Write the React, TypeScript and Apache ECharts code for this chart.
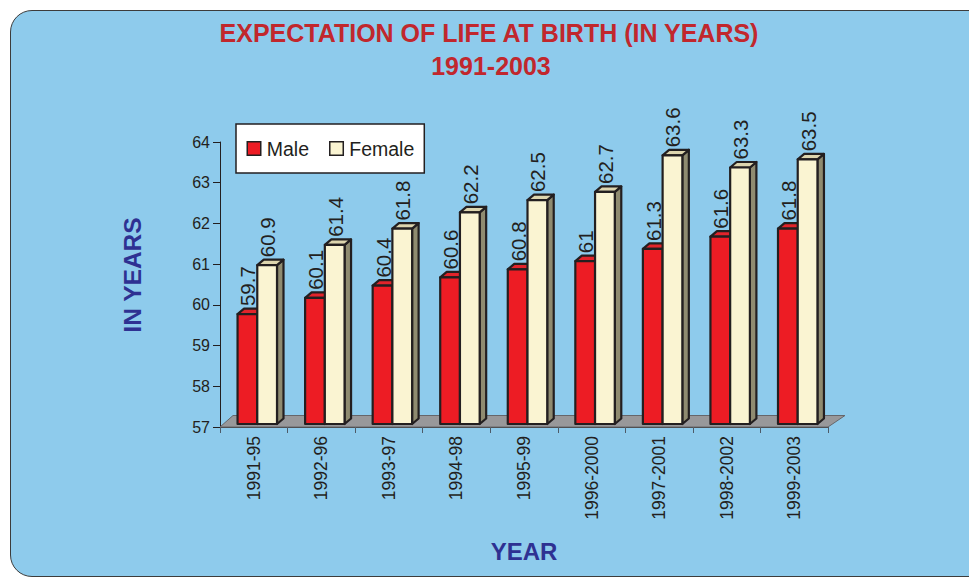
import React, { useEffect, useRef } from 'react';
import * as echarts from 'echarts';

const categories = ['1991-95', '1992-96', '1993-97', '1994-98', '1995-99', '1996-2000', '1997-2001', '1998-2002', '1999-2003'];
const maleValues = [59.7, 60.1, 60.4, 60.6, 60.8, 61, 61.3, 61.6, 61.8];
const femaleValues = [60.9, 61.4, 61.8, 62.2, 62.5, 62.7, 63.6, 63.3, 63.5];
const AXIS_MIN = 57;
const AXIS_MAX = 64;
const AXIS_STEP = 1;

const FONT = '"Liberation Sans", Arial, Helvetica, sans-serif';
const INK = '#231f20';

function makeBarRender(pos: number, front: string, top: string, side: string) {
  return (params: any, api: any) => {
    const idx = api.value(0);
    const v = api.value(1);
    const band = api.size([1, 0])[0];
    const barW = band * 0.292;
    const c = api.coord([idx, v]);
    const b = api.coord([idx, AXIS_MIN]);
    const shiftX = 3.5;
    const shiftY = -3;
    const ddx = 6.5;
    const ddy = -5.5;
    const x0 = c[0] - barW + pos * barW + shiftX;
    const x1 = x0 + barW;
    const yT = c[1] + shiftY;
    const yB = b[1] + shiftY;
    const stroke = { stroke: INK, lineWidth: 2.2, lineJoin: 'round' };
    return {
      type: 'group',
      children: [
        {
          type: 'polygon',
          z2: 0,
          shape: { points: [[x1, yT], [x1 + ddx, yT + ddy], [x1 + ddx, yB + ddy], [x1, yB]] },
          style: { fill: side, ...stroke },
        },
        {
          type: 'polygon',
          z2: 0,
          shape: { points: [[x0, yT], [x1, yT], [x1 + ddx, yT + ddy], [x0 + ddx, yT + ddy]] },
          style: { fill: top, ...stroke },
        },
        {
          type: 'rect',
          z2: 0,
          shape: { x: x0, y: yT, width: barW, height: yB - yT },
          style: { fill: front, ...stroke },
        },
        {
          type: 'text',
          z2: 10,
          x: (x0 + x1) / 2 + 0.5,
          y: yT - 8,
          rotation: Math.PI / 2,
          style: {
            text: String(v),
            x: 0,
            y: 0,
            fill: INK,
            fontSize: 20.5,
            fontFamily: FONT,
            align: 'left',
            verticalAlign: 'middle',
          },
        },
      ],
    };
  };
}

function floorRender(params: any, api: any) {
  const band = api.size([1, 0])[0];
  const l = api.coord([0, AXIS_MIN]);
  const r = api.coord([categories.length - 1, AXIS_MIN]);
  const L = l[0] - band / 2;
  const R = r[0] + band / 2;
  const y = l[1];
  return {
    type: 'polygon',
    shape: { points: [[L, y], [R, y], [R + 17, y - 11.5], [L + 13, y - 11.5]] },
    style: { fill: '#98989a', stroke: '#66666a', lineWidth: 1 },
  };
}

export default function App() {
  const ref = useRef<HTMLDivElement>(null);
  useEffect(() => {
    if (!ref.current) return;
    const chart = echarts.init(ref.current, undefined, { renderer: 'svg' });
    chart.setOption({
      animation: false,
      backgroundColor: 'transparent',
      grid: { left: 220, right: 141, top: 142, bottom: 152, containLabel: false },
      graphic: [
        {
          type: 'text',
          x: 489,
          y: 33,
          style: {
            text: 'EXPECTATION OF LIFE AT BIRTH (IN YEARS)',
            fill: '#c1272d',
            fontSize: 25,
            fontWeight: 'bold',
            fontFamily: FONT,
            align: 'center',
            verticalAlign: 'middle',
          },
        },
        {
          type: 'text',
          x: 491,
          y: 65.5,
          style: {
            text: '1991-2003',
            fill: '#c1272d',
            fontSize: 25,
            fontWeight: 'bold',
            fontFamily: FONT,
            align: 'center',
            verticalAlign: 'middle',
          },
        },
        {
          type: 'text',
          x: 132,
          y: 275,
          rotation: Math.PI / 2,
          style: {
            text: 'IN YEARS',
            fill: '#2e3192',
            fontSize: 24.5,
            fontWeight: 'bold',
            fontFamily: FONT,
            align: 'center',
            verticalAlign: 'middle',
          },
        },
        {
          type: 'text',
          x: 524,
          y: 551.5,
          style: {
            text: 'YEAR',
            fill: '#2e3192',
            fontSize: 24,
            fontWeight: 'bold',
            fontFamily: FONT,
            align: 'center',
            verticalAlign: 'middle',
          },
        },
      ],
      legend: {
        left: 236,
        top: 124,
        orient: 'horizontal',
        backgroundColor: '#ffffff',
        borderColor: INK,
        borderWidth: 1.5,
        borderRadius: 0,
        padding: [14.5, 10, 14.5, 10.5],
        itemWidth: 13.5,
        itemHeight: 13.5,
        itemGap: 20,
        selectedMode: false,
        textStyle: { fontSize: 19.5, color: INK, fontFamily: FONT, padding: [0, 0, 0, 1], lineHeight: 20 },
        data: [
          { name: 'Male', icon: 'rect', itemStyle: { color: '#ed1c24', borderColor: INK, borderWidth: 1.5 } },
          { name: 'Female', icon: 'rect', itemStyle: { color: '#faf4d2', borderColor: INK, borderWidth: 1.5 } },
        ],
      },
      xAxis: {
        type: 'category',
        data: categories,
        boundaryGap: true,
        axisLine: { show: true, lineStyle: { color: '#3a3a3a', width: 1 } },
        axisTick: { show: true, length: 6, lineStyle: { color: '#4d5b68', width: 1 } },
        axisLabel: { rotate: 90, fontSize: 17.5, color: INK, fontFamily: FONT, margin: 9 },
        splitLine: { show: false },
      },
      yAxis: {
        type: 'value',
        min: AXIS_MIN,
        max: AXIS_MAX,
        interval: AXIS_STEP,
        axisLine: { show: true, lineStyle: { color: INK, width: 1 } },
        axisTick: { show: true, length: 7, lineStyle: { color: INK, width: 1 } },
        axisLabel: { fontSize: 16, color: INK, fontFamily: FONT, margin: 10 },
        splitLine: { show: false },
      },
      series: [
        {
          name: 'floor',
          type: 'custom',
          z: 1,
          silent: true,
          renderItem: floorRender,
          data: [[0, AXIS_MIN]],
        },
        {
          name: 'Male',
          type: 'custom',
          z: 2,
          itemStyle: { color: '#ed1c24' },
          renderItem: makeBarRender(0, '#ed1c24', '#e2242b', '#9c1b1f'),
          data: maleValues.map((v, i) => [i, v]),
        },
        {
          name: 'Female',
          type: 'custom',
          z: 2,
          itemStyle: { color: '#faf4d2' },
          renderItem: makeBarRender(1, '#faf4d2', '#ddd5ae', '#8f8b70'),
          data: femaleValues.map((v, i) => [i, v]),
        },
      ],
    });
    return () => chart.dispose();
  }, []);

  return (
    <div style={{ position: 'absolute', left: 0, top: 0, width: 969, height: 579, overflow: 'hidden', background: '#ffffff' }}>
      <div
        style={{
          position: 'absolute',
          left: 10,
          top: 10,
          width: 990,
          height: 567,
          boxSizing: 'border-box',
          borderRadius: 22,
          border: '1.5px solid #3c3c3c',
          background: '#8ecbec',
        }}
      />
      <div ref={ref} style={{ position: 'absolute', left: 0, top: 0, width: 969, height: 579 }} />
    </div>
  );
}
